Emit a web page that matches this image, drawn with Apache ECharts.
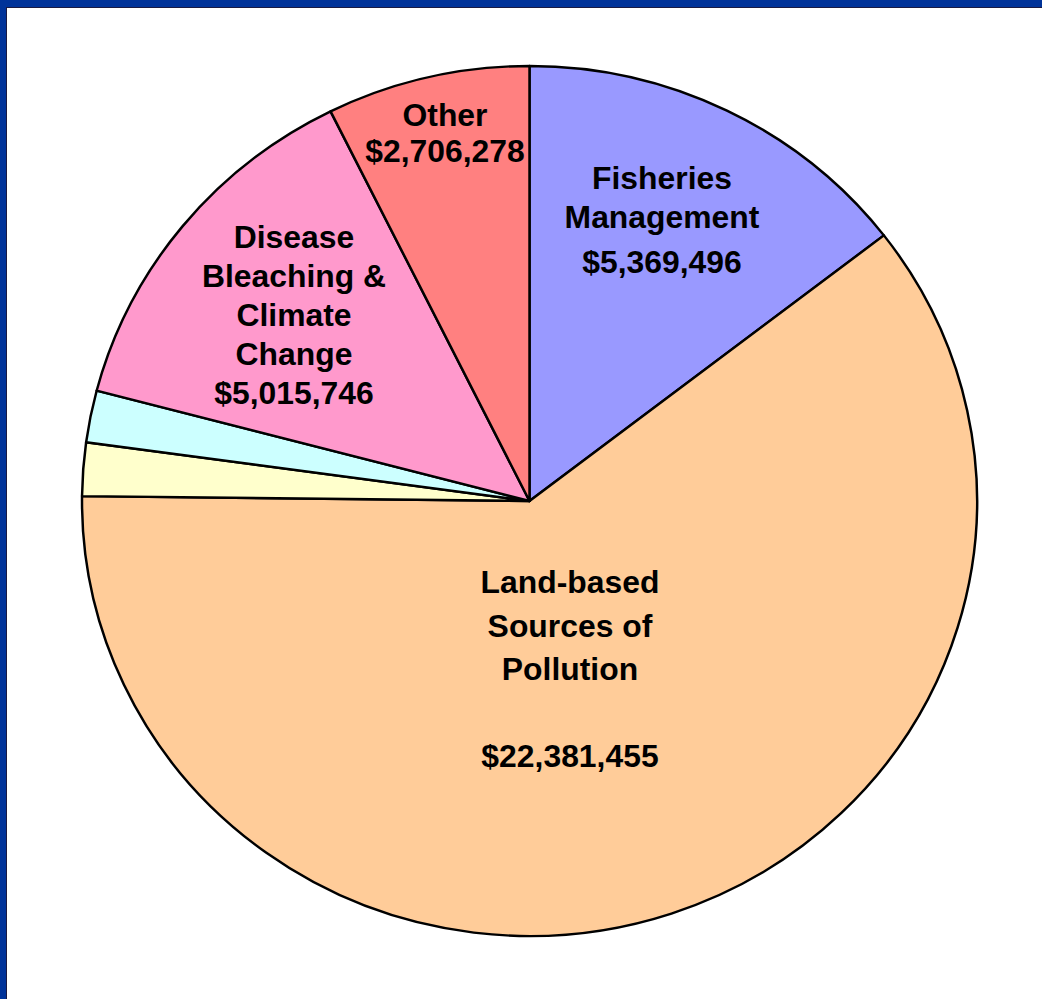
<!DOCTYPE html>
<html>
<head>
<meta charset="utf-8">
<script src="https://cdn.jsdelivr.net/npm/echarts@6/dist/echarts.min.js"></script>
<style>
  html, body { margin: 0; padding: 0; }
  body { width: 1042px; height: 999px; background: #003399; overflow: hidden; position: relative; }
  .panel {
    position: absolute; left: 6px; top: 7px; right: 0; bottom: 0;
    background: #ffffff;
    border-left: 1px solid #1a1a40;
    border-top: 1px solid #1a1a40;
  }
  #coral_pie {
    position: absolute; left: 0; top: 0;
    width: 1013px; height: 999px;
    transform: scaleX(1.0287);
    transform-origin: 0 0;
  }
</style>
</head>
<body>
<div class="panel"></div>
<div id="coral_pie"></div>
<script>
  // slice data, clockwise from 12 o'clock
  const categories = [
    'Fisheries Management',
    'Land-based Sources of Pollution',
    'Unlabeled A',
    'Unlabeled B',
    'Disease Bleaching & Climate Change',
    'Other'
  ];
  const values = [5369496, 22381455, 730000, 710000, 5015746, 2706278];
  const labelTexts = [
    '{t|Fisheries}\n{t|Management}\n{g|}\n{t|$5,369,496}',
    '{l|Land-based}\n{l|Sources of}\n{l|Pollution}\n{l|}\n{l|$22,381,455}',
    '',
    '',
    '{t|Disease}\n{t|Bleaching &}\n{t|Climate}\n{t|Change}\n{t|$5,015,746}',
    '{o|Other}\n{o|$2,706,278}'
  ];
  const colors = ['#9999FF', '#FFCC99', '#FFFFCC', '#CCFFFF', '#FF99CC', '#FF8080'];

  // where each label block is centred, in page pixels
  const labelSpots = [[662, 221], [570, 670], null, null, [294, 316], [445, 134]];
  const sx = 1.0287;

  const myChart = echarts.init(document.getElementById('coral_pie'), null, { renderer: 'svg' });
  const option = {
    animation: false,
    series: [
      {
        type: 'pie',
        center: [529.5 / sx, 501],
        radius: 435,
        startAngle: 90,
        clockwise: true,
        avoidLabelOverlap: false,
        silent: true,
        itemStyle: { borderColor: '#000', borderWidth: 2.4 },
        label: {
          show: true,
          position: 'inside',
          align: 'center',
          verticalAlign: 'middle',
          color: '#000',
          fontFamily: '"Liberation Sans", Arial, sans-serif',
          fontWeight: 'bold',
          fontSize: 31,
          formatter: function (p) { return labelTexts[p.dataIndex]; },
          rich: {
            t: { fontSize: 31, lineHeight: 39, fontWeight: 'bold', color: '#000', fontFamily: '"Liberation Sans", Arial, sans-serif' },
            g: { fontSize: 6, lineHeight: 6 },
            l: { fontSize: 31, lineHeight: 43.5, fontWeight: 'bold', color: '#000', fontFamily: '"Liberation Sans", Arial, sans-serif' },
            o: { fontSize: 31, lineHeight: 36, fontWeight: 'bold', color: '#000', fontFamily: '"Liberation Sans", Arial, sans-serif' }
          }
        },
        labelLine: { show: false },
        labelLayout: function (params) {
          const spot = labelSpots[params.dataIndex];
          if (!spot) return {};
          return { x: spot[0] / sx, y: spot[1], align: 'center', verticalAlign: 'middle' };
        },
        data: categories.map(function (name, i) {
          return {
            name: name,
            value: values[i],
            itemStyle: { color: colors[i] },
            label: { show: labelTexts[i] !== '' }
          };
        })
      }
    ]
  };
  myChart.setOption(option);
</script>
</body>
</html>
